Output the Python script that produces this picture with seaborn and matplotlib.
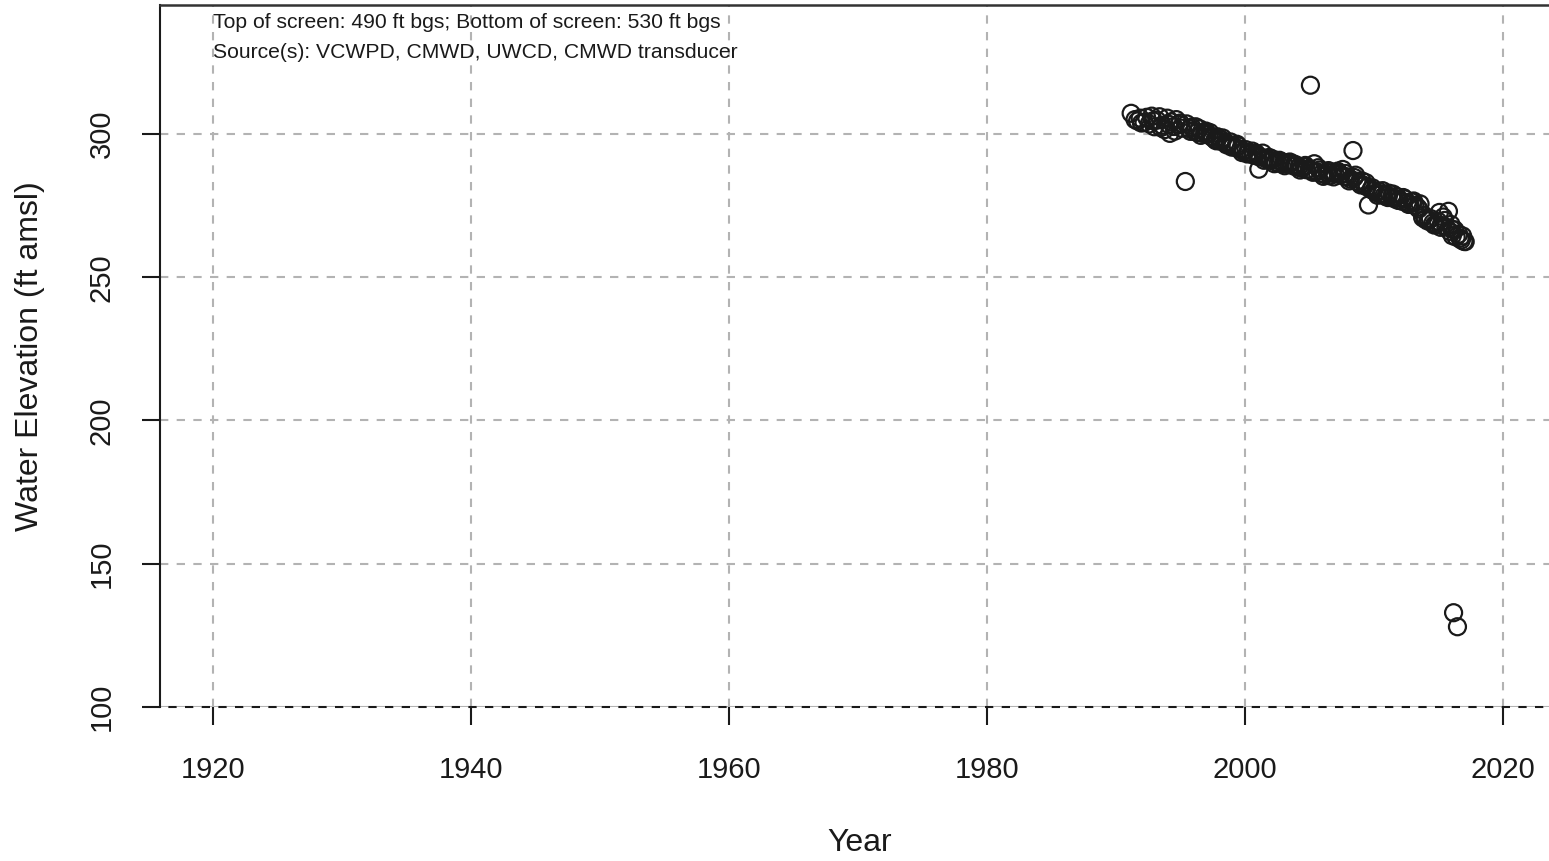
import numpy as np
import pandas as pd
import matplotlib
matplotlib.use("Agg")
import matplotlib.pyplot as plt
import seaborn as sns

years = [
    1991.2, 1991.5, 1991.7, 1991.9, 1992.2, 1992.4, 1992.6, 1992.8,
    1993.0, 1993.2, 1993.4, 1993.6, 1993.8, 1994.0, 1994.2, 1994.3,
    1994.5, 1994.7, 1994.9, 1995.1, 1995.4, 1995.5, 1995.7, 1995.9,
    1996.1, 1996.3, 1996.5, 1996.7, 1996.9, 1997.1, 1997.3, 1997.5,
    1997.7, 1997.9, 1998.1, 1998.3, 1998.5, 1998.7, 1998.9, 1999.1,
    1999.3, 1999.5, 1999.7, 1999.9, 2000.1, 2000.3, 2000.5, 2000.7,
    2000.9, 2001.1, 2001.2, 2001.4, 2001.6, 2001.8, 2002.0, 2002.2,
    2002.4, 2002.6, 2002.8, 2003.0, 2003.2, 2003.4, 2003.6, 2003.8,
    2004.0, 2004.2, 2004.4, 2004.6, 2004.8, 2005.0, 2005.1, 2005.2,
    2005.4, 2005.6, 2005.8, 2006.0, 2006.2, 2006.4, 2006.6, 2006.8,
    2007.0, 2007.2, 2007.4, 2007.6, 2007.8, 2008.0, 2008.2, 2008.4,
    2008.5, 2008.7, 2008.9, 2009.1, 2009.3, 2009.5, 2009.6, 2009.8,
    2010.0, 2010.2, 2010.4, 2010.6, 2010.8, 2011.0, 2011.2, 2011.4,
    2011.6, 2011.8, 2012.0, 2012.2, 2012.4, 2012.6, 2012.8, 2013.0,
    2013.2, 2013.4, 2013.6, 2013.8, 2014.0, 2014.2, 2014.4, 2014.6,
    2014.8, 2015.0, 2015.1, 2015.3, 2015.4, 2015.6, 2015.8, 2015.9,
    2016.0, 2016.1, 2016.2, 2016.3, 2016.4, 2016.5, 2016.6, 2016.8,
    2017.0, 2017.1,
    # transducer / extra readings inside the main band
    1992.0, 1992.9, 1993.5, 1994.1, 1994.6, 1995.0, 1995.8, 1996.2,
    1996.6, 1997.0, 1997.4, 1997.8, 1998.2, 1998.6, 1999.0, 1999.4,
    1999.8, 2000.2, 2000.6, 2001.0, 2001.5, 2001.9, 2002.3, 2002.7,
    2003.1, 2003.5, 2003.9, 2004.3, 2004.7, 2005.3, 2005.7, 2006.1,
    2006.5, 2006.9, 2007.3, 2007.7, 2008.1, 2008.6, 2009.0, 2009.4,
    2009.9, 2010.3, 2010.7, 2011.1, 2011.5, 2011.9, 2012.3, 2012.7,
    2013.1, 2013.5, 2013.9, 2014.3, 2014.7, 2015.2, 2015.5, 2016.05,
    2016.7, 2016.9,
]
elevation = [
    307.2, 305.0, 304.5, 305.5, 304.0, 305.8, 303.5, 306.2,
    302.5, 304.8, 306.0, 303.0, 301.5, 305.5, 300.2, 304.2,
    302.6, 305.0, 303.3, 302.0, 283.4, 303.5, 301.8, 302.4,
    301.0, 300.5, 301.8, 300.2, 300.8, 299.8, 300.5, 298.8,
    298.0, 299.0, 297.5, 298.6, 297.0, 296.5, 297.2, 296.0,
    295.2, 295.8, 294.6, 294.0, 294.5, 293.5, 293.0, 292.6,
    293.2, 287.7, 292.0, 293.3, 291.5, 291.0, 290.8, 291.2,
    290.2, 289.8, 290.4, 289.6, 290.0, 289.3, 289.8, 288.8,
    289.0, 288.4, 288.0, 288.6, 287.5, 287.8, 317.0, 287.2,
    289.6, 286.8, 287.4, 286.2, 285.8, 286.6, 285.4, 286.5,
    286.0, 287.0, 285.8, 287.6, 286.2, 285.0, 284.2, 294.2,
    284.8, 283.5, 282.8, 283.6, 282.0, 281.5, 275.2, 280.6,
    280.2, 279.5, 280.0, 279.0, 278.4, 278.8, 279.3, 278.0,
    277.4, 278.2, 277.0, 276.5, 277.3, 276.0, 275.5, 276.2,
    275.0, 274.4, 275.6, 270.8, 270.2, 269.6, 270.5, 269.0,
    268.5, 269.5, 272.6, 268.0, 271.0, 267.5, 273.0, 266.0,
    268.4, 264.5, 132.9, 266.5, 264.0, 128.0, 265.0, 263.0,
    262.5, 262.4,
    303.8, 304.6, 302.2, 303.4, 301.0, 303.8, 300.9, 302.5,
    299.5, 301.0, 299.2, 297.6, 298.0, 296.2, 295.4, 296.4,
    293.5, 293.0, 294.0, 292.2, 290.8, 291.8, 289.6, 290.8,
    288.9, 290.2, 289.4, 287.4, 289.0, 286.6, 288.2, 285.2,
    287.2, 285.0, 286.4, 285.2, 283.6, 285.6, 282.2, 283.0,
    281.2, 278.6, 280.2, 277.8, 279.0, 276.8, 277.8, 275.4,
    276.6, 273.8, 271.6, 270.0, 268.2, 267.4, 269.8, 266.8,
    263.6, 264.4,
]

x_ticks = [1920, 1940, 1960, 1980, 2000, 2020]
y_ticks = [100, 150, 200, 250, 300]
notes = [
    "Top of screen: 490 ft bgs; Bottom of screen: 530 ft bgs",
    "Source(s): VCWPD, CMWD, UWCD, CMWD transducer",
]

df = pd.DataFrame({"Year": years, "Elevation": elevation})

sns.set_theme(style="white")
plt.rcParams["font.family"] = ["Liberation Sans", "DejaVu Sans"]
ink = "#1a1a1a"

fig = plt.figure(figsize=(15.49, 8.61), dpi=100)
# plot region runs past the right edge of the figure, as in the original
ax = fig.add_axes([0.1033, 0.1789, 0.950, 0.8153])

ax.set_xlim(1915.9, 2030)
ax.set_ylim(100, 345)
ax.set_xticks(x_ticks)
ax.set_yticks(y_ticks)

ax.grid(True, color="#b3b3b3", linestyle=(0, (4, 4)), linewidth=1.5)
ax.set_axisbelow(True)
# black dashed line at 100, offset so it alternates with the grey grid dashes
ax.axhline(100, color=ink, linestyle=(4, (4, 4)), linewidth=1.5,
           clip_on=False, zorder=2)

sns.scatterplot(data=df, x="Year", y="Elevation", ax=ax, marker="o",
                s=150, facecolor="none", edgecolor=ink, linewidth=1.6,
                zorder=3)

for side in ("bottom", "right"):
    ax.spines[side].set_visible(False)
ax.spines["left"].set_color(ink)
ax.spines["left"].set_linewidth(1.5)
ax.spines["top"].set_color("#333333")
ax.spines["top"].set_linewidth(1.8)

ax.tick_params(axis="both", which="major", direction="out", length=13,
               width=1.5, color=ink, labelsize=21, labelcolor=ink,
               bottom=True, left=True)
ax.tick_params(axis="x", pad=22)
ax.tick_params(axis="y", pad=19)
for lab in ax.get_yticklabels():
    lab.set_rotation(90)
    lab.set_va("center")

ax.set_xlabel("Year", fontsize=23, color=ink)
ax.set_ylabel("Water Elevation (ft amsl)", fontsize=23, color=ink)
ax.xaxis.set_label_coords(0.4755, -0.1937)
ax.xaxis.label.set_va("center")
ax.yaxis.set_label_coords(-0.0883, 0.50)
ax.yaxis.label.set_va("center")

ax.text(1920, 0.9745, notes[0], transform=ax.get_xaxis_transform(),
        fontsize=15.2, color=ink, va="center", ha="left")
ax.text(1920, 0.932, notes[1], transform=ax.get_xaxis_transform(),
        fontsize=15.2, color=ink, va="center", ha="left")

fig.savefig("out.png", dpi=100)
